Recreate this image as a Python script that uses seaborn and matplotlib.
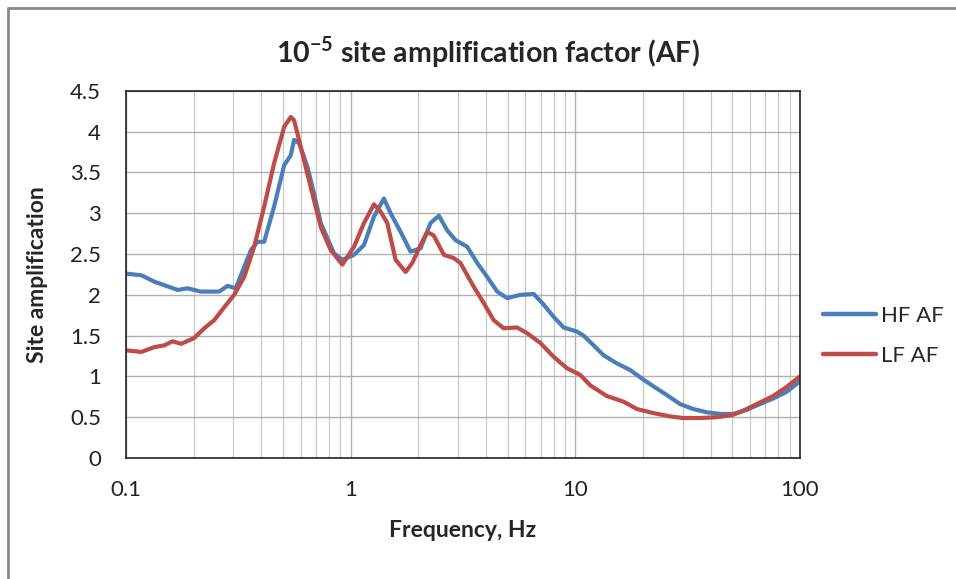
import numpy as np
import pandas as pd
import matplotlib
matplotlib.use("Agg")
import matplotlib.pyplot as plt
import matplotlib.ticker as mticker
from matplotlib.lines import Line2D
import seaborn as sns

# ─────────────────────────────────────────────
# DONNÉES
# ─────────────────────────────────────────────
HF_FREQ = [0.1, 0.117, 0.134, 0.170, 0.188, 0.215, 0.26, 0.283, 0.308, 0.36,
           0.385, 0.412, 0.456, 0.506, 0.541, 0.56, 0.589, 0.642, 0.687, 0.736,
           0.843, 0.918, 1.035, 1.146, 1.27, 1.406, 1.506, 1.67, 1.848, 2.047,
           2.267, 2.47, 2.69, 2.93, 3.30, 3.66, 4.05, 4.49, 4.97, 5.70, 6.53,
           7.23, 8.01, 8.87, 10.17, 10.88, 12.07, 13.35, 15.3, 17.5, 20.1, 23.1,
           25.6, 29.3, 33.5, 38.5, 44.1, 50.5, 57.9, 66.3, 76.0, 87.1, 100.0]
HF_AF = [2.26, 2.24, 2.16, 2.06, 2.08, 2.04, 2.04, 2.11, 2.08, 2.55,
         2.65, 2.65, 3.08, 3.59, 3.71, 3.90, 3.86, 3.57, 3.24, 2.88,
         2.51, 2.43, 2.49, 2.61, 2.96, 3.18, 3.00, 2.77, 2.53, 2.57,
         2.88, 2.97, 2.79, 2.67, 2.59, 2.39, 2.22, 2.04, 1.96, 2.00, 2.01,
         1.88, 1.73, 1.60, 1.55, 1.50, 1.38, 1.26, 1.16, 1.08, 0.96, 0.85,
         0.77, 0.66, 0.60, 0.56, 0.54, 0.54, 0.59, 0.66, 0.73, 0.81, 0.94]

LF_FREQ = [0.1, 0.117, 0.134, 0.148, 0.161, 0.176, 0.201, 0.223, 0.247, 0.274,
           0.303, 0.336, 0.372, 0.412, 0.456, 0.506, 0.541, 0.56, 0.61, 0.664,
           0.736, 0.815, 0.918, 1.035, 1.146, 1.27, 1.36, 1.455, 1.585, 1.756,
           1.88, 2.047, 2.19, 2.34, 2.60, 2.88, 3.08, 3.53, 3.91, 4.33, 4.80,
           5.50, 6.10, 6.99, 8.01, 9.18, 10.5, 11.66, 13.8, 16.4, 18.8, 22.3,
           26.4, 30.1, 35.9, 42.6, 50.5, 57.9, 66.3, 76.0, 87.1, 100.0]
LF_AF = [1.32, 1.30, 1.36, 1.38, 1.43, 1.40, 1.47, 1.59, 1.69, 1.85,
         2.00, 2.22, 2.59, 3.08, 3.61, 4.06, 4.18, 4.14, 3.73, 3.32,
         2.83, 2.55, 2.37, 2.59, 2.88, 3.11, 3.02, 2.88, 2.43, 2.28,
         2.39, 2.61, 2.77, 2.73, 2.49, 2.45, 2.39, 2.10, 1.90, 1.69, 1.59,
         1.60, 1.53, 1.41, 1.24, 1.10, 1.02, 0.89, 0.76, 0.69, 0.60, 0.55,
         0.51, 0.49, 0.49, 0.50, 0.53, 0.60, 0.68, 0.76, 0.87, 1.00]

SERIES = ["HF AF", "LF AF"]
COLORS = {"HF AF": "#4A7EBB", "LF AF": "#BE4B48"}
X_TICKS = [0.1, 1, 10, 100]
Y_TICKS = [0, 0.5, 1, 1.5, 2, 2.5, 3, 3.5, 4, 4.5]

# ─────────────────────────────────────────────
# FIGURE
# ─────────────────────────────────────────────
sns.set_style("white")
plt.rcParams["font.family"] = ["Lato", "DejaVu Sans"]

df = pd.concat([
    pd.DataFrame({"freq": HF_FREQ, "af": HF_AF, "serie": "HF AF"}),
    pd.DataFrame({"freq": LF_FREQ, "af": LF_AF, "serie": "LF AF"}),
])

fig = plt.figure(figsize=(9.56, 5.79), dpi=100)
ax = fig.add_axes([0.1318, 0.209, 0.705, 0.634])

sns.lineplot(data=df, x="freq", y="af", hue="serie", hue_order=SERIES,
             palette=COLORS, linewidth=3.0, ax=ax, legend=False, sort=False)

ax.set_xscale("log")
ax.set_xlim(0.1, 100)
ax.set_ylim(0, 4.5)
ax.set_xticks(X_TICKS)
ax.xaxis.set_major_formatter(mticker.FuncFormatter(lambda v, p: f"{v:g}"))
ax.xaxis.set_minor_locator(mticker.LogLocator(base=10, subs=np.arange(2, 10)))
ax.xaxis.set_minor_formatter(mticker.NullFormatter())
ax.set_yticks(Y_TICKS)
ax.yaxis.set_major_formatter(mticker.FuncFormatter(lambda v, p: f"{v:g}"))

ax.grid(True, which="major", color="#b0b0b0", linewidth=1.0)
ax.grid(True, which="minor", axis="x", color="#c8c8c8", linewidth=0.9)
ax.set_axisbelow(True)

for side in ["left", "bottom", "top", "right"]:
    ax.spines[side].set_visible(True)
    ax.spines[side].set_color("#222222")
    ax.spines[side].set_linewidth(1.2)

ax.tick_params(axis="both", which="major", direction="out", length=6,
               color="#888888", labelsize=16, pad=12, labelcolor="#222222")
ax.tick_params(axis="x", which="minor", length=0)
ax.tick_params(axis="x", which="major", pad=10)

ax.set_xlabel("Frequency, Hz", fontsize=16.5, fontweight="bold", labelpad=14)
ax.set_ylabel("Site amplification", fontsize=16.5, fontweight="bold", labelpad=16)
fig.text(0.51, 0.91, "10$^{\\mathregular{-5}}$ site amplification factor (AF)",
         fontsize=20.5, fontweight="bold", ha="center", va="center")

handles = [Line2D([0], [0], color=COLORS[s], linewidth=3.2) for s in SERIES]
fig.legend(handles, SERIES, loc="center left", bbox_to_anchor=(0.84, 0.42),
           frameon=False, fontsize=16, handlelength=2.4, handletextpad=0.2,
           labelspacing=0.9)

# cadre du graphique (bords gauche et haut visibles)
fig.add_artist(Line2D([0.0085, 0.0085], [0.0, 0.986], color="#8a8a8a",
                      linewidth=2, transform=fig.transFigure))
fig.add_artist(Line2D([0.0085, 1.0], [0.986, 0.986], color="#8a8a8a",
                      linewidth=2, transform=fig.transFigure))

fig.savefig("out.png", dpi=100)
